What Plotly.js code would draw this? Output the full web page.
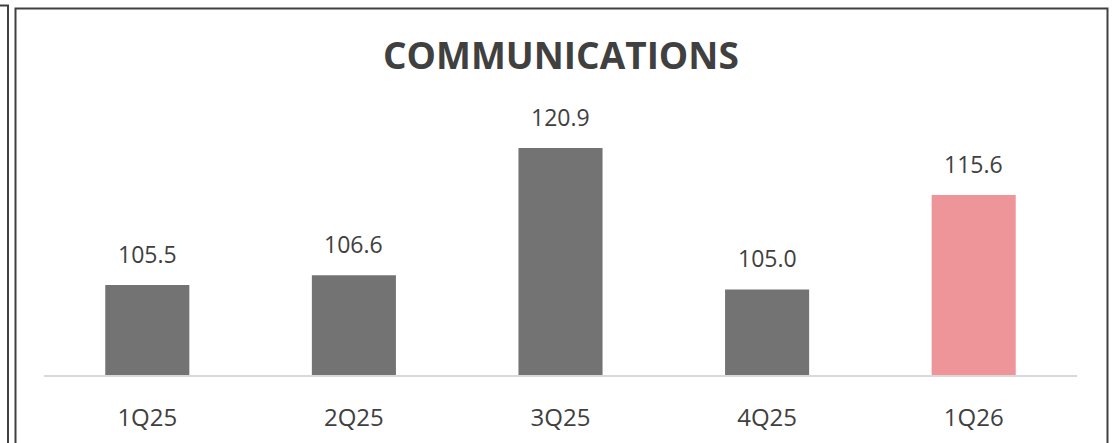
<!DOCTYPE html>
<html>
<head>
<meta charset="utf-8">
<script src="https://cdn.plot.ly/plotly-3.0.1.min.js"></script>
<style>
  html, body { margin: 0; padding: 0; background: #ffffff; }
  #chart { width: 1117px; height: 443px; }
</style>
</head>
<body>
<div id="chart"></div>
<script>
// ---- data ----
const quarters = ["1Q25", "2Q25", "3Q25", "4Q25", "1Q26"];
const values = [105.5, 106.6, 120.9, 105.0, 115.6];
const barColors = ["#737373", "#737373", "#737373", "#737373", "#EE9599"];
const chartTitle = "COMMUNICATIONS";

// ---- layout geometry (pixels) ----
const W = 1117, H = 443;
const M = { l: 44, r: 40, t: 67, b: 68 };
const plotW = W - M.l - M.r;
const plotH = H - M.t - M.b;
const px2x = p => (p - M.l) / plotW;
const px2y = p => (H - M.b - p) / plotH;

const FONT = "Open Sans, Noto Sans, DejaVu Sans, sans-serif";

const trace = {
  type: "bar",
  x: quarters,
  y: values,
  marker: { color: barColors, line: { width: 0 } },
  hoverinfo: "skip"
};

const labelAnnotations = quarters.map((q, i) => ({
  x: q,
  y: values[i],
  xref: "x",
  yref: "y",
  text: values[i].toFixed(1),
  showarrow: false,
  yanchor: "bottom",
  yshift: 13,
  font: { family: FONT, size: 23, color: "#404040" }
}));

const titleAnnotation = {
  x: px2x(561),
  y: px2y(54),
  xref: "paper",
  yref: "paper",
  text: "<b>" + chartTitle + "</b>",
  showarrow: false,
  xanchor: "center",
  yanchor: "middle",
  font: { family: FONT, size: 37, color: "#404040" }
};

const shapes = [
  // main frame
  {
    type: "path", xref: "paper", yref: "paper",
    path: `M ${px2x(15.5)} ${px2y(460)} L ${px2x(15.5)} ${px2y(8.5)} L ${px2x(1107.5)} ${px2y(8.5)} L ${px2x(1107.5)} ${px2y(460)}`,
    line: { color: "#404040", width: 2 }
  },
  // neighbouring frame edge on the left
  {
    type: "path", xref: "paper", yref: "paper",
    path: `M ${px2x(-10)} ${px2y(5.5)} L ${px2x(8)} ${px2y(5.5)} L ${px2x(8)} ${px2y(460)}`,
    line: { color: "#404040", width: 2 }
  }
];

const layout = {
  width: W,
  height: H,
  margin: M,
  paper_bgcolor: "#ffffff",
  plot_bgcolor: "#ffffff",
  showlegend: false,
  bargap: 0.593,
  xaxis: {
    type: "category",
    showgrid: false,
    zeroline: false,
    showline: true,
    linecolor: "#D9D9D9",
    linewidth: 1.5,
    ticks: "outside",
    ticklen: 21,
    tickcolor: "rgba(0,0,0,0)",
    tickfont: { family: FONT, size: 24, color: "#404040" },
    fixedrange: true
  },
  yaxis: {
    range: [95.38, 130],
    visible: false,
    showgrid: false,
    zeroline: false,
    fixedrange: true
  },
  annotations: [titleAnnotation].concat(labelAnnotations),
  shapes: shapes
};

Plotly.newPlot("chart", [trace], layout, { displayModeBar: false, staticPlot: true });
</script>
</body>
</html>
